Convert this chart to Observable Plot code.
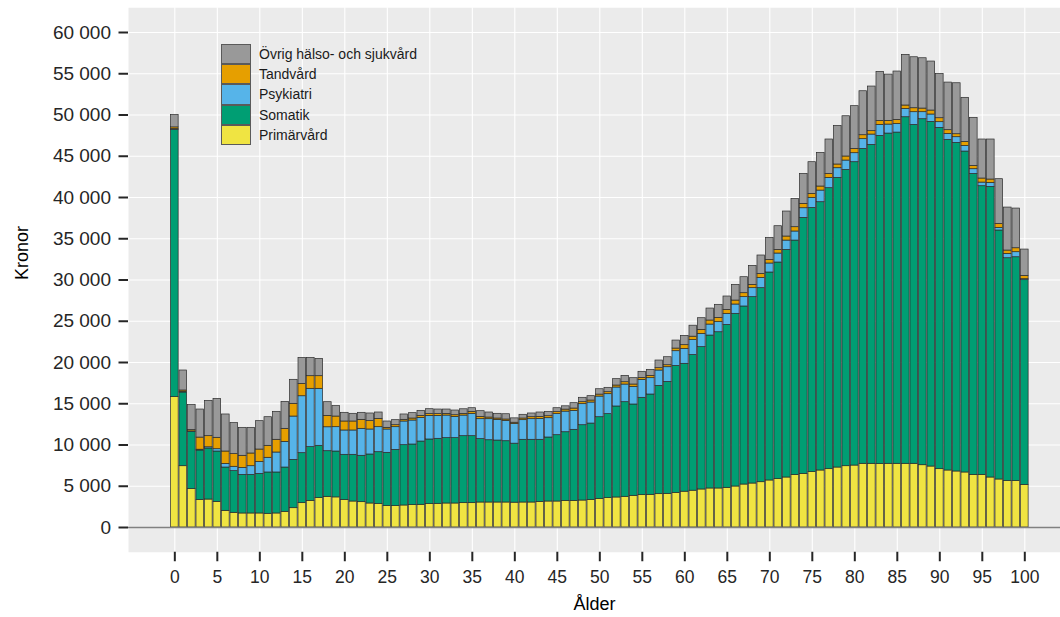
<!DOCTYPE html>
<html>
<head>
<meta charset="utf-8">
<script src="https://cdn.jsdelivr.net/npm/d3@7"></script>
<script src="https://cdn.jsdelivr.net/npm/@observablehq/plot@0.6"></script>
<style>
  body { margin: 0; background: #fff; }
  #wrap { position: relative; width: 1060px; height: 617px; }
  .legend { position: absolute; left: 221px; top: 44px; font-family: "Liberation Sans", Arial, sans-serif; font-size: 14px; color: #1a1a1a; }
  .row { display: flex; align-items: center; height: 20.2px; }
  .key { width: 30px; height: 20.2px; box-sizing: border-box; border: 1px solid #5a5a5a; margin-right: 8px; }
</style>
</head>
<body>
<div id="wrap"></div>
<script>
// Categories
const ages = d3.range(0, 101);
const categoryNames = ["Primärvård", "Somatik", "Psykiatri", "Tandvård", "Övrig hälso- och sjukvård"];
const categoryColors = ["#F0E442", "#009E73", "#56B4E9", "#E69F00", "#999999"];
const legendOrder = ["Övrig hälso- och sjukvård", "Tandvård", "Psykiatri", "Somatik", "Primärvård"];

// Values in kronor per age 0..100
const primarvard = [15800,7430,4650,3350,3390,3110,2020,1780,1700,1700,1700,1660,1700,1900,2340,2950,3230,3560,3720,3650,
  3350,3150,3070,2910,2830,2590,2590,2670,2710,2750,2830,2870,2910,2910,2950,2950,3030,3030,3030,3030,
  3010,3030,3030,3110,3150,3150,3230,3230,3270,3350,3470,3560,3640,3720,3840,3920,3960,4040,4080,4200,
  4340,4460,4610,4730,4730,4810,4970,5210,5330,5490,5700,5860,6060,6380,6500,6710,6910,7070,7270,7430,
  7510,7720,7720,7680,7720,7720,7720,7720,7550,7390,7070,6910,6790,6670,6380,6380,6060,5820,5620,5620,5170];
const somatik = [32400,8930,6950,5980,6185,6100,5250,5050,4680,4680,4800,5010,4970,5370,5860,6060,6510,6340,5530,5560,
  5460,5660,5620,5940,6300,6460,6820,7310,7350,7670,7840,7880,7920,7920,8120,8120,7680,7550,7510,7430,
  7150,7600,7600,7520,7760,8040,8320,8610,9130,9250,9900,10180,11030,11470,11070,11800,12160,13130,13570,15390,
  15500,16450,17250,18540,18940,19750,20930,21580,22590,23520,25210,26260,27590,28400,31030,32030,32520,34060,35110,35920,
  36770,38170,38660,39790,40030,40150,42010,41080,41940,41780,41370,40080,39830,38900,36480,34990,35230,30180,27020,27140,24810];
const psykiatri = [100,100,50,100,150,280,440,530,850,1050,1450,1780,2420,3110,5250,6900,7070,6910,2900,2950,
  2950,2950,3270,3030,3030,2830,2750,2870,2910,2870,2860,2780,2740,2580,2500,2710,2420,2550,2510,2470,
  2380,2380,2500,2540,2340,2550,2500,2300,2550,2550,2500,2420,2300,2140,2140,2180,1980,1860,1780,1780,
  1810,1810,1610,1330,1220,1340,1130,1130,1090,1250,1090,1090,1130,1100,1170,1220,1410,1250,1170,1130,
  1090,1180,1250,1330,1090,1050,1010,1540,850,890,690,720,690,690,570,440,480,320,530,610,120];
const tandvard = [200,150,150,1470,1345,1380,1500,1530,1460,1540,1500,1450,1540,1580,1540,1500,1530,1530,1380,1290,
  1090,1090,1090,1010,1010,200,240,200,240,240,210,210,200,200,200,240,280,200,160,160,
  160,200,240,240,240,240,240,280,240,240,240,240,240,280,280,240,280,280,240,320,
  450,410,490,490,520,480,480,480,400,480,440,440,490,520,530,480,490,480,450,490,
  520,480,410,490,450,490,410,480,440,480,480,450,360,480,400,490,410,480,400,480,400];
const ovrig = [1500,2420,3070,3400,4280,4720,4490,3760,3390,3110,3440,3470,3390,3270,2910,3150,2220,2100,1660,1260,
  1050,930,850,930,770,770,610,650,650,610,600,560,530,570,560,440,690,610,570,640,
  530,450,450,530,530,480,400,650,530,530,650,530,770,770,770,730,730,930,970,970,
  1130,1330,1410,1450,1580,1620,1900,1940,2300,2230,2670,2870,3030,3430,3630,3840,4080,4170,4680,4880,
  5180,5330,5410,5940,5610,5860,6140,6180,6100,5940,5370,5770,6180,5340,5820,4730,4850,5420,5210,4810,3190];

const xTicks = [0,5,10,15,20,25,30,35,40,45,50,55,60,65,70,75,80,85,90,95,100];
const yTicks = [0,5000,10000,15000,20000,25000,30000,35000,40000,45000,50000,55000,60000];

const seriesValues = [primarvard, somatik, psykiatri, tandvard, ovrig];
const rows = [];
ages.forEach((a, i) => {
  categoryNames.forEach((name, k) => rows.push({age: a, cat: name, value: seriesValues[k][i]}));
});

const fmt = d => d3.format(",")(d).replace(/,/g, " ");
const barHalf = 0.45;

const chart = Plot.plot({
  width: 1060,
  height: 617,
  marginLeft: 128,
  marginRight: 0,
  marginTop: 7.25,
  marginBottom: 65.25,
  style: {fontFamily: "'Liberation Sans', Arial, sans-serif", background: "transparent", color: "#262626"},
  x: {domain: [-5.45, 104.2]},
  y: {domain: [-3000, 63000]},
  color: {domain: categoryNames, range: categoryColors},
  marks: [
    Plot.frame({fill: "#EBEBEB", stroke: "none"}),
    Plot.ruleX(xTicks, {stroke: "white", strokeWidth: 1.1}),
    Plot.ruleY(yTicks, {stroke: "white", strokeWidth: 1.1}),
    Plot.rectY(rows, {
      x1: d => d.age - barHalf,
      x2: d => d.age + barHalf,
      y: "value",
      fill: "cat",
      stroke: "#2b2b2b",
      strokeWidth: 0.7
    }),
    Plot.ruleY([0], {stroke: "#808080", strokeWidth: 1.6}),
    Plot.axisY(yTicks, {
      tickSize: 9.5, tickPadding: 8, fontSize: 19, strokeWidth: 2,
      tickFormat: fmt, label: null
    }),
    Plot.axisX(xTicks, {
      tickSize: 9.5, tickPadding: 9, fontSize: 17.5, strokeWidth: 2,
      tickFormat: d => String(d), label: null
    }),
    Plot.text(["Kronor"], {frameAnchor: "left", dx: -106, rotate: -90, fontSize: 18, fill: "#000"}),
    Plot.text(["Ålder"], {frameAnchor: "bottom", dy: 58, fontSize: 18, fill: "#000"})
  ]
});

const wrap = document.getElementById("wrap");
wrap.appendChild(chart);

const legend = document.createElement("div");
legend.className = "legend";
legendOrder.forEach(name => {
  const row = document.createElement("div");
  row.className = "row";
  const key = document.createElement("div");
  key.className = "key";
  key.style.background = categoryColors[categoryNames.indexOf(name)];
  const label = document.createElement("span");
  label.textContent = name;
  row.appendChild(key);
  row.appendChild(label);
  legend.appendChild(row);
});
wrap.appendChild(legend);
</script>
</body>
</html>
